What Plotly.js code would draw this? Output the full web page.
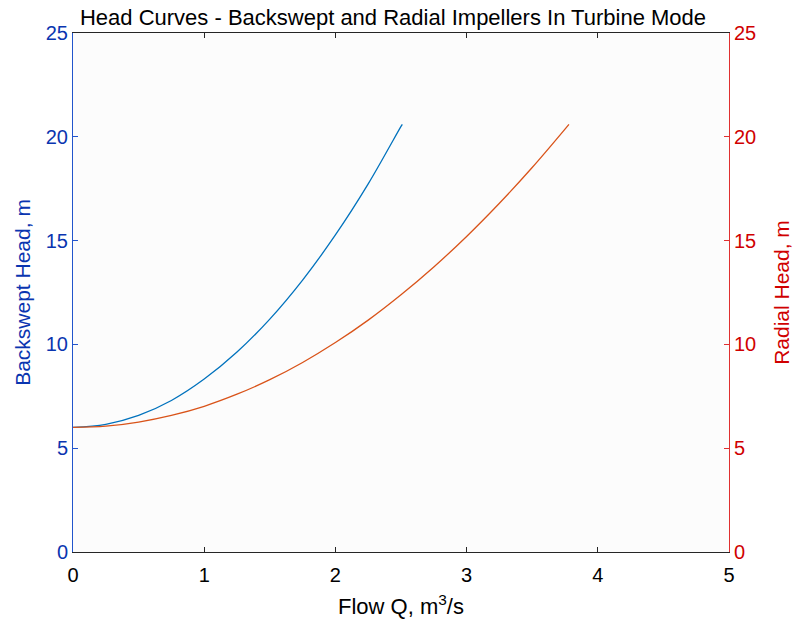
<!DOCTYPE html>
<html><head><meta charset="utf-8">
<script src="https://cdn.plot.ly/plotly-3.0.1.min.js"></script>
<style>html,body{margin:0;padding:0;background:#fff}#chart{width:797px;height:620px}</style>
</head><body><div id="chart"></div>
<script>
const backsweptQ = [0, 0.25, 0.5, 0.75, 1.0, 1.25, 1.5, 1.75, 2.0, 2.25, 2.5, 2.51];
const backsweptH = [6.0, 6.15, 6.58, 7.3, 8.33, 9.63, 11.22, 13.1, 15.27, 17.73, 20.5, 20.6];
const radialQ = [0, 0.25, 0.5, 0.75, 1.0, 1.25, 1.5, 1.75, 2.0, 2.25, 2.5, 2.75, 3.0, 3.25, 3.5, 3.75, 3.78];
const radialH = [6.0, 6.06, 6.26, 6.58, 7.02, 7.6, 8.3, 9.13, 10.09, 11.17, 12.39, 13.73, 15.2, 16.8, 18.52, 20.37, 20.6];
const xTicks = [0, 1, 2, 3, 4, 5];
const yTicks = [0, 5, 10, 15, 20, 25];

const font = 'Liberation Sans, Arial, sans-serif';
const leftText = '#0a35b0', rightText = '#d00000';
const traces = [
  {x: backsweptQ, y: backsweptH, type: 'scatter', mode: 'lines', line: {color: '#0072BD', width: 1.3, shape: 'spline'}, yaxis: 'y', hoverinfo: 'skip'},
  {x: radialQ, y: radialH, type: 'scatter', mode: 'lines', line: {color: '#D95319', width: 1.3, shape: 'spline'}, yaxis: 'y2', hoverinfo: 'skip'}
];
const layout = {
  width: 797, height: 620,
  margin: {l: 73, r: 68, t: 33, b: 68},
  paper_bgcolor: '#ffffff', plot_bgcolor: '#fcfcfc',
  showlegend: false,
  font: {family: font, size: 18, color: '#000'},
  title: {text: 'Head Curves - Backswept and Radial Impellers In Turbine Mode', font: {family: font, size: 22, color: '#000'}, x: 393/797, xanchor: 'center', y: 1 - 17.5/620, yanchor: 'middle'},
  xaxis: {range: [0, 5], tickvals: xTicks, ticktext: xTicks.map(String), ticks: 'inside', ticklen: 5, tickcolor: '#262626',
    showline: true, linecolor: '#262626', linewidth: 1, mirror: 'ticks', showgrid: false, zeroline: false,
    ticklabelstandoff: 5,
    tickfont: {family: font, size: 20, color: '#000'},
    title: {text: 'Flow Q, m<sup>3</sup>/s', font: {family: font, size: 22, color: '#000'}, standoff: 13}},
  yaxis: {range: [0, 25], tickvals: yTicks, ticktext: yTicks.map(String), ticks: 'inside', ticklen: 5, tickcolor: '#2255cc',
    showline: true, linecolor: '#2255cc', linewidth: 1, showgrid: false, zeroline: false,
    tickfont: {family: font, size: 20, color: leftText},
    title: {text: 'Backswept Head, m', font: {family: font, size: 21, color: leftText}, standoff: 9}},
  yaxis2: {range: [0, 25], overlaying: 'y', side: 'right', tickvals: yTicks, ticktext: yTicks.map(String), ticks: 'inside', ticklen: 5, tickcolor: '#e03030',
    showline: true, linecolor: '#e03030', linewidth: 1, showgrid: false, zeroline: false,
    tickfont: {family: font, size: 20, color: rightText},
    title: {text: 'Radial Head, m', font: {family: font, size: 21, color: rightText}, standoff: 19}}
};
Plotly.newPlot('chart', traces, layout, {displayModeBar: false, staticPlot: true});
</script></body></html>
